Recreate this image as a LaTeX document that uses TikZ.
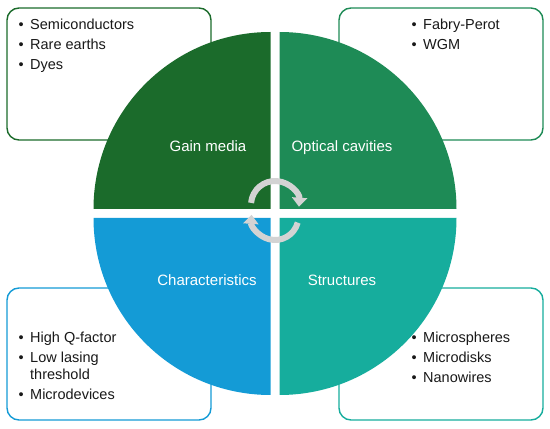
\documentclass[tikz,border=0pt]{standalone}
\usepackage{fontspec}
\setmainfont{Liberation Sans}
\usetikzlibrary{arrows.meta}
\definecolor{cgain}{HTML}{1B6B2B}
\definecolor{copt}{HTML}{1E8B56}
\definecolor{cchar}{HTML}{149BD6}
\definecolor{cstruc}{HTML}{16AD9D}
\definecolor{carrow}{HTML}{D3D3D3}
\tikzset{
  infobox/.style={line width=1.4pt, fill=white, rounded corners=12pt},
  itemtxt/.style={anchor=base west, inner sep=0pt, font=\fontsize{14.5}{17}\selectfont, text=black!90},
  quadlabel/.style={anchor=base, inner sep=0pt, font=\fontsize{15}{17}\selectfont, text=white},
  cyclearrow/.style={line width=6pt, draw=carrow, -{Triangle[width=15pt,length=9pt]}}
}
\newcommand{\bul}{\llap{\textbullet\hspace{6.5pt}}}
\begin{document}
\begin{tikzpicture}[x=1pt,y=1pt]
\useasboundingbox (0,0) rectangle (550,429);
% boxes
\draw[infobox, draw=cgain] (7,289) rectangle (211,421);
\draw[infobox, draw=copt] (339,289) rectangle (543,421);
\draw[infobox, draw=cchar] (7,9) rectangle (211,141);
\draw[infobox, draw=cstruc] (339,9) rectangle (543,141);
% quadrants
\fill[cgain] (270.5,220) -- ++(-177,0) arc[start angle=180, end angle=90, radius=177] -- cycle;
\fill[copt] (279.5,220) -- ++(0,177) arc[start angle=90, end angle=0, radius=177] -- cycle;
\fill[cchar] (270.5,211) -- ++(-177,0) arc[start angle=180, end angle=270, radius=177] -- cycle;
\fill[cstruc] (279.5,211) -- ++(177,0) arc[start angle=0, end angle=-90, radius=177] -- cycle;
% labels
\node[quadlabel] (gain) at (208,277) {Gain media};
\node[quadlabel] (opt) at (342,277) {Optical cavities};
\node[quadlabel] (char) at (207,143) {Characteristics};
\node[quadlabel] (struc) at (342,143) {Structures};
% items
\node[itemtxt] (g1) at (30,399) {\bul Semiconductors};
\node[itemtxt] (g2) at (30,379) {\bul Rare earths};
\node[itemtxt] (g3) at (30,359) {\bul Dyes};
\node[itemtxt] (o1) at (423,399) {\bul Fabry-Perot};
\node[itemtxt] (o2) at (423,379) {\bul WGM};
\node[itemtxt] (c1) at (30,86) {\bul High Q-factor};
\node[itemtxt] (c2) at (30,66) {\bul Low lasing};
\node[itemtxt] (c2b) at (30,49) {threshold};
\node[itemtxt] (c3) at (30,29) {\bul Microdevices};
\node[itemtxt] (s1) at (423,86) {\bul Microspheres};
\node[itemtxt] (s2) at (423,66) {\bul Microdisks};
\node[itemtxt] (s3) at (423,46) {\bul Nanowires};
% cycle arrows
\coordinate (ctop) at (275,224);
\coordinate (cbot) at (275,212.5);
\draw[cyclearrow] (ctop) ++(175:24) arc[start angle=175, end angle=-4, radius=24];
\draw[cyclearrow] (cbot) ++(-15:23.5) arc[start angle=-15, end angle=-184, radius=23.5];
\end{tikzpicture}
\end{document}
